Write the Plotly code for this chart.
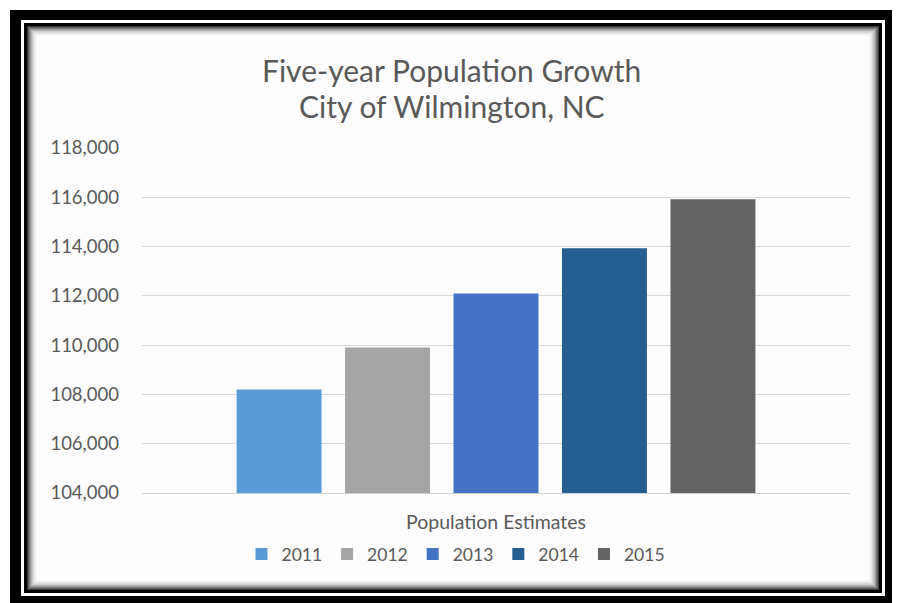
import plotly.graph_objects as go

# ---- data ----
category = ["Population Estimates"]
years = ["2011", "2012", "2013", "2014", "2015"]
population = [108200, 109900, 112100, 113930, 115920]
colors = ["#5B9BD5", "#A5A5A5", "#4472C4", "#255E91", "#636363"]
y_ticks = [104000, 106000, 108000, 110000, 112000, 114000, 116000, 118000]
y_tick_labels = ["104,000", "106,000", "108,000", "110,000", "112,000", "114,000", "116,000", "118,000"]
title_lines = ["Five-year Population Growth", "City of Wilmington, NC"]

W, H = 900, 603
OFF = 8  # page body margin offset
ML, MR, MT, MB = 134, 58, 140, 118
PW, PH = W - ML - MR, H - MT - MB

def px(x):
    return (x - OFF - ML) / PW

def py(y):
    return (H - MB - (y - OFF)) / PH

fig = go.Figure()
for yr, val, col in zip(years, population, colors):
    fig.add_trace(go.Bar(x=category, y=[val], name=yr, marker=dict(color=col, line=dict(width=0))))

shapes = []
def rect(x0, y0, x1, y1, color):
    shapes.append(dict(type="rect", xref="paper", yref="paper",
                       x0=px(x0), x1=px(x1), y0=py(y0), y1=py(y1),
                       fillcolor=color, line=dict(width=0), layer="below"))

# frame
rect(10, 10, 912, 615, "#000000")
rect(21, 20, 885, 596, "#ffffff")
rect(24, 23, 882, 593, "#000000")
shadow = ["#3a3a3a", "#5e5e5e", "#7e7e7e", "#9a9a9a", "#b3b3b3", "#c8c8c8",
          "#dadada", "#e8e8e8", "#f2f2f2", "#f9f9f9", "#fdfdfd"]
for i, c in enumerate(shadow):
    rect(27 + i, 26 + i, 879 - i, 590 - i, c)

annotations = []
for line, yc in zip(title_lines, [70, 106]):
    annotations.append(dict(text=line, xref="paper", yref="paper", x=px(451.5), y=py(yc),
                            xanchor="center", yanchor="middle", showarrow=False,
                            font=dict(size=30, color="#595959", family="Lato")))

fig.update_layout(
    width=W, height=H,
    margin=dict(l=ML, r=MR, t=MT, b=MB),
    paper_bgcolor="white", plot_bgcolor="rgba(0,0,0,0)",
    font=dict(family="Lato", color="#595959"),
    barmode="group", bargap=0.234, bargroupgap=0.217,
    showlegend=True,
    legend=dict(orientation="h", x=px(456), xanchor="center", y=py(554), yanchor="middle",
                font=dict(size=17.5, color="#595959"), bgcolor="rgba(0,0,0,0)",
                itemwidth=30),
    shapes=shapes,
    annotations=annotations,
)
fig.update_yaxes(range=[104000, 118000], tickvals=y_ticks, ticktext=y_tick_labels,
                 showgrid=True, gridcolor="#d9d9d9", gridwidth=1, zeroline=False,
                 showline=False, ticks="", ticklabelstandoff=22,
                 tickfont=dict(size=18.5, color="#595959"))
fig.update_xaxes(showline=True, linecolor="#d0d0d0", linewidth=1, ticks="",
                 ticklabelstandoff=12, tickfont=dict(size=19.5, color="#595959"))

fig.write_html("out.html")
